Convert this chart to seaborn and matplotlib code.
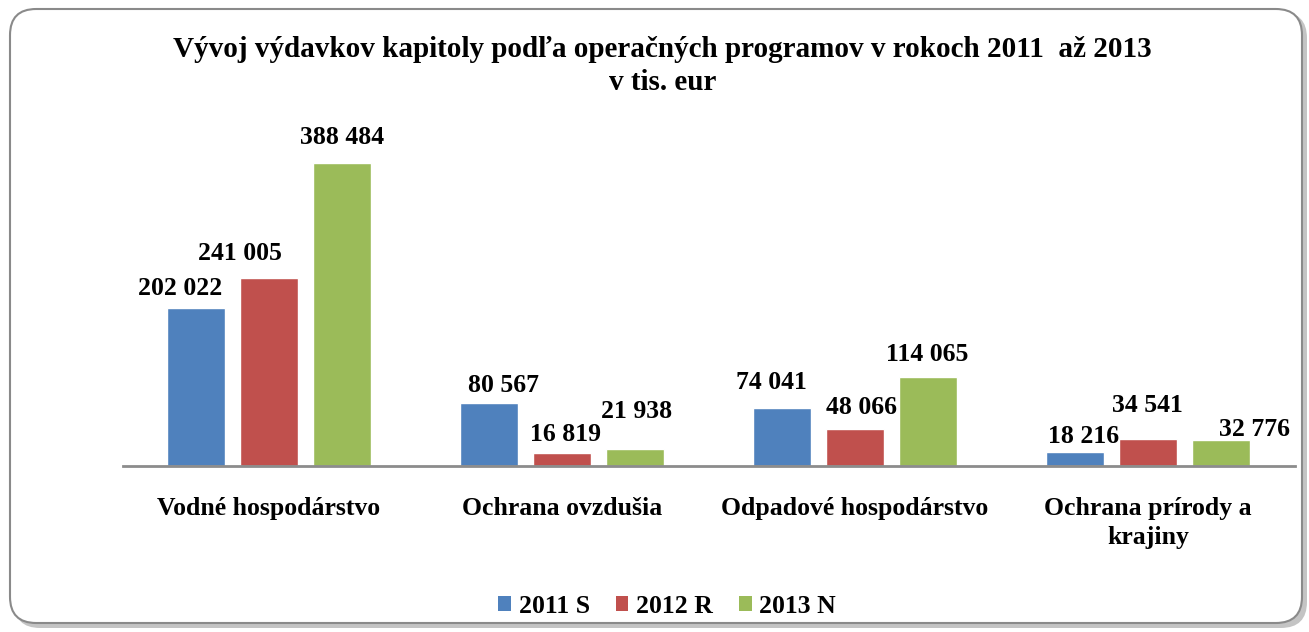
import pandas as pd
import seaborn as sns
import matplotlib.pyplot as plt
from matplotlib.patches import FancyBboxPatch, Patch

# data (tis. eur)
categories = ["Vodné hospodárstvo", "Ochrana ovzdušia", "Odpadové hospodárstvo",
              "Ochrana prírody a\nkrajiny"]
years = ["2011 S", "2012 R", "2013 N"]
values_2011 = [202022, 80567, 74041, 18216]
values_2012 = [241005, 16819, 48066, 34541]
values_2013 = [388484, 21938, 114065, 32776]

colors = ["#4F81BD", "#C0504D", "#9BBB59"]

# label offsets in pixels (dx, dy) so the numbers sit like in the original
label_offsets = {
    "2011 S": [(-16, 20), (14, 18), (-11, 26), (9, 15)],
    "2012 R": [(-29, 25), (4, 18), (6, 21), (-1, 34)],
    "2013 N": [(0, 25), (2, 37), (-1, 23), (34, 11)],
}

df = pd.DataFrame({
    "category": categories * 3,
    "year": [years[0]] * 4 + [years[1]] * 4 + [years[2]] * 4,
    "value": values_2011 + values_2012 + values_2013,
})

sns.set_style("white")
plt.rcParams['font.family'] = ['Liberation Serif', 'DejaVu Serif']
plt.rcParams['font.weight'] = 'bold'
plt.rcParams['text.color'] = 'black'
plt.rcParams['xtick.color'] = 'black'

fig = plt.figure(figsize=(13.09, 6.32), dpi=100)

# rounded frame with a soft shadow on the bottom-right
shadow = FancyBboxPatch((14 / 1309, 4 / 632), 1293 / 1309, 616 / 632,
                        boxstyle="round,pad=0,rounding_size=0.02",
                        transform=fig.transFigure, facecolor="#c4c4c4",
                        edgecolor="none", zorder=-3, mutation_aspect=1309 / 632)
frame = FancyBboxPatch((10 / 1309, 9 / 632), 1292 / 1309, 614 / 632,
                       boxstyle="round,pad=0,rounding_size=0.02",
                       transform=fig.transFigure, facecolor="white",
                       edgecolor="#8a8a8a", linewidth=1.5, zorder=-2,
                       mutation_aspect=1309 / 632)
fig.patches.extend([shadow, frame])

ax = fig.add_axes([122.5 / 1309, (632 - 466) / 632, 1172 / 1309, 346 / 632])
ax.set_facecolor("none")

sns.barplot(data=df, x="category", y="value", hue="year", palette=colors,
            width=0.747, gap=0.205, ax=ax, legend=False, saturation=1)

ax.set_ylim(0, 388484 * 346 / 303)
ax.set_xlim(-0.5, 3.5)
ax.set_xlabel("")
ax.set_ylabel("")
ax.set_yticks([])
for side in ["left", "right", "top"]:
    ax.spines[side].set_visible(False)
ax.spines["bottom"].set_color("#8c8c8c")
ax.spines["bottom"].set_linewidth(2)
ax.tick_params(axis="x", length=0, pad=22, labelsize=18.5)
for lbl in ax.get_xticklabels():
    lbl.set_fontweight("bold")
    lbl.set_linespacing(1.35)

for cont, yr in zip(ax.containers, years):
    for bar, off in zip(cont, label_offsets[yr]):
        h = bar.get_height()
        x = bar.get_x() + bar.get_width() / 2
        ax.annotate(f"{int(h):,}".replace(",", " "), (x, h), xytext=off,
                    textcoords="offset pixels", ha="center", va="center",
                    fontsize=18.5, fontweight="bold")

fig.text(0.506, 0.922, "Vývoj výdavkov kapitoly podľa operačných programov v rokoch 2011  až 2013",
         ha="center", va="center", fontsize=21, fontweight="bold")
fig.text(0.506, 0.870, "v tis. eur", ha="center", va="center",
         fontsize=21, fontweight="bold")

handles = [Patch(facecolor=c, edgecolor="none") for c in colors]
fig.legend(handles, years, loc="center", bbox_to_anchor=(0.5096, 0.041), ncol=3,
           frameon=False, handlelength=0.5, handleheight=0.5, handletextpad=0.3,
           columnspacing=1.0, prop={"size": 18.5, "weight": "bold"})

fig.savefig("out.png", dpi=100)
